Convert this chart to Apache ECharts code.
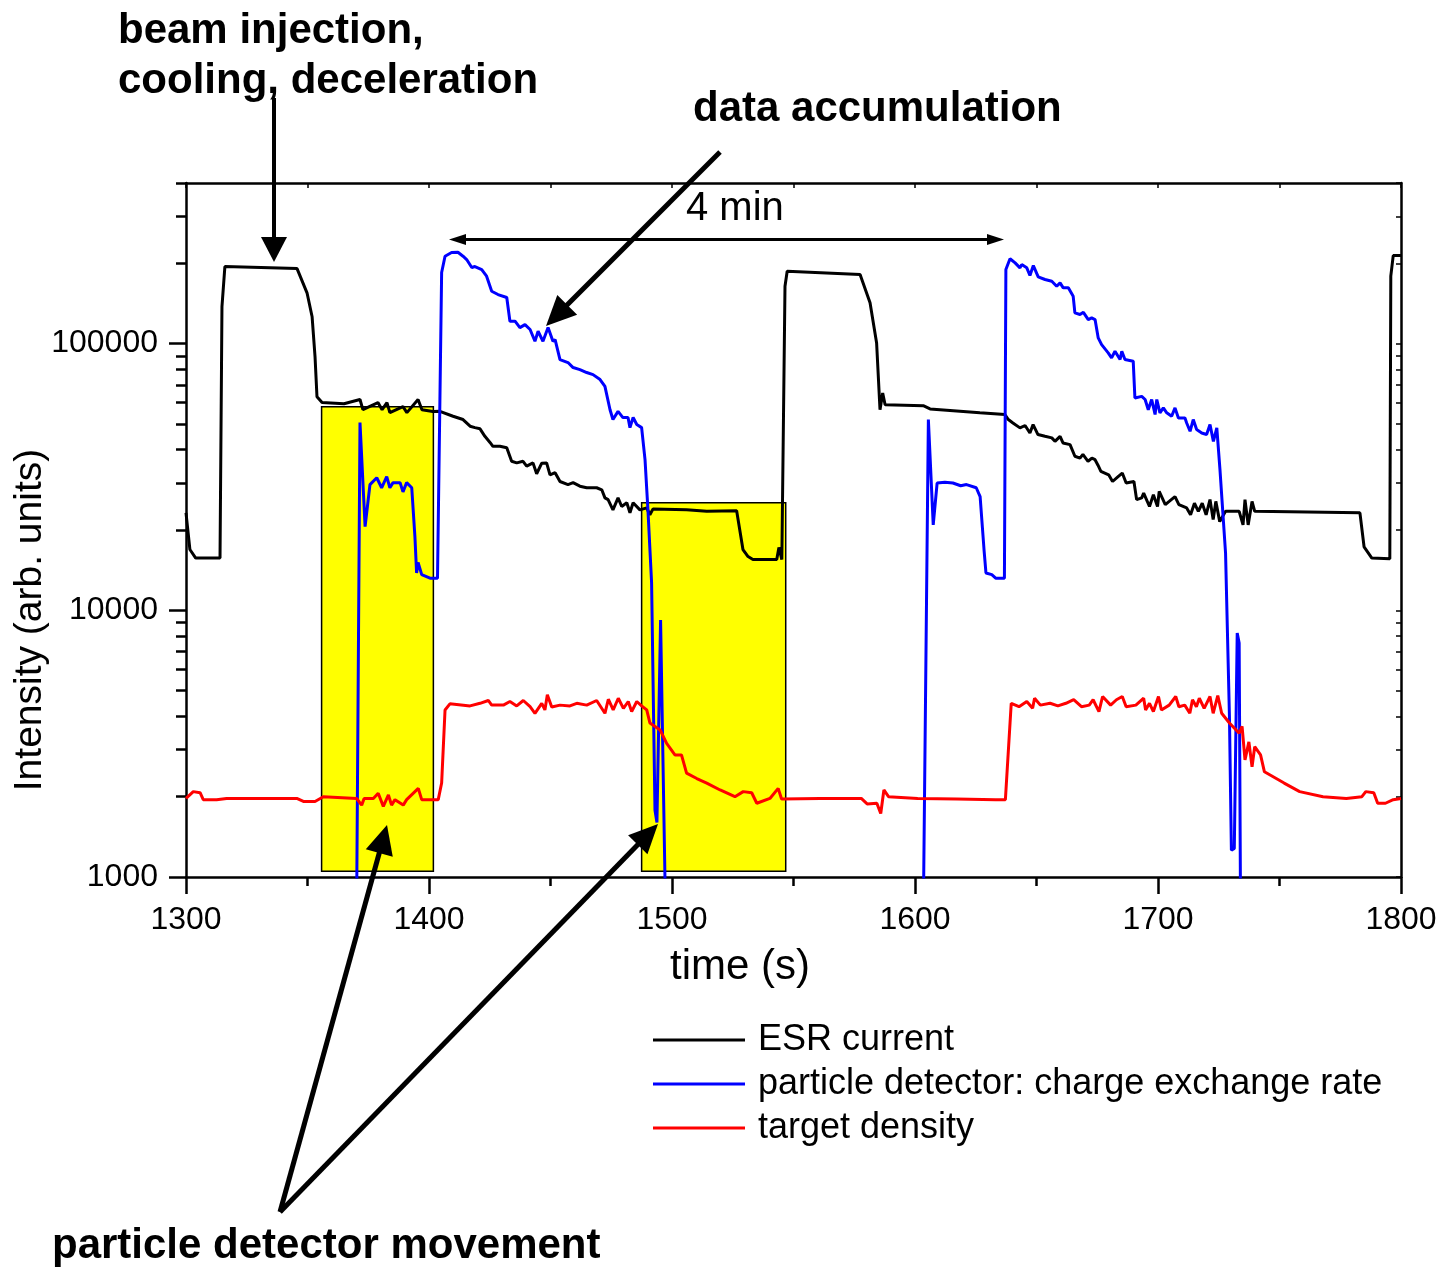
<!DOCTYPE html>
<html><head><meta charset="utf-8">
<script src="https://cdn.jsdelivr.net/npm/echarts@6/dist/echarts.min.js"></script>
<style>html,body{margin:0;padding:0;background:#fff}#c{width:1446px;height:1267px}</style>
</head><body><div id="c"></div>
<script>
// ---------- data ----------
const seriesNames = ['ESR current', 'particle detector: charge exchange rate', 'target density'];

const esrTime = [1300,1301.6,1304,1314,1314.8,1316,1345.7,1349.8,1351.9,1353.1,1353.9,1356,1365,1371.6,1372.8,1379,1380.7,1382.7,1383.9,1389.3,1390.9,1395.5,1397.1,1401.6,
 1404.5,1409.9,1414,1416.9,1418.9,1421,1423,1425.1,1426.3,1429.2,1432,1434,1436.1,1438.7,1440.2,1442.8,1444.3,1446.4,1448.4,1449.8,1451.9,1453.9,1457.2,1459.3,1462.1,1464.9,1469,1471.1,1472.4,1473.7,1475.7,1477.8,1479.3,1481.4,1482.7,1484,1486.8,1489.6,1490.9,1492.2,1506,1514.3,1526.6,1529.2,1531.3,1533.3,1543.1,1544,1545.2,1545.7,
 1546.5,1547.4,1577.4,1581.5,1584.2,1585.6,1586.7,1587.7,1603.4,1606.2,1626.7,1637,1638.4,1640.3,1643.2,1645.3,1647.3,1648.6,1650.6,1653.5,1656.3,1657.6,1659.7,1660.9,1663.8,1665.8,1667.9,1669.1,1671.2,1672.8,1674.1,1675.3,1676.5,1679.7,1681.3,1683.7,1685.3,1686.9,1690.1,1691.2,1693.3,1694.1,1696.5,1698.1,1699.8,1700.5,1703,1704.6,1707,1708.6,1711.8,1713.4,1715,1716.6,1718.2,1719.8,1721.4,1722.7,1723.8,1725.4,1727.8,1733.4,1735,1735.8,1737.1,1738.7,1739.8,1783.1,1784.8,1788,1795.4,1795.8,1796.8,1800];
const esrValue = [23200,16900,15700,15700,137700,194500,191000,155000,126000,89300,63200,60100,59500,61700,56500,60100,56500,60100,55100,58000,55100,61700,56500,55600,
 55700,53400,51900,49000,48400,47900,44900,42600,41200,41200,40700,36200,35700,36200,34700,35700,32500,35600,35700,32200,32800,30400,29600,30100,29200,28800,28800,28300,26400,26000,23800,26400,24500,25300,23200,25300,23800,24200,22800,24000,23800,23500,23600,16900,15900,15500,15500,17200,15500,15500,
 164000,186700,181500,142200,100600,56500,65300,59000,58500,56900,55000,54200,51900,50400,48300,49300,46200,49700,45600,44900,44300,43000,44900,42400,41800,37800,37200,38400,36200,37200,36700,35000,33200,32200,30400,31800,32700,30000,30400,26000,26400,27500,24500,27100,24500,27900,24900,25600,26700,24900,24200,22800,25200,23500,25200,22800,26000,21900,25600,21500,23500,23500,20900,26000,20900,25600,23500,23200,17300,15700,15600,179000,213800,213800];

const detTime = [1300,1369.9,1371.6,1373.7,1375.7,1378.5,1380.5,1382.6,1383.9,1385.2,1388.1,1389.3,1390.8,1392.9,1394.2,1394.9,1395.5,1397,1400.4,1403.5,1405.2,1406.6,1409.3,1411.9,1414,1415.5,1417.6,1418.9,1421.7,1423.7,1425.8,1428.4,1432,1433.3,1435.4,1437.4,1439.5,1441.6,1443.6,1444.9,1446.9,1449,1451,1451.9,1453.9,1457.2,1459.3,1462.1,1464.9,1467.5,1470.4,1472.4,1474.5,1475.7,1477.8,1479.8,1481.9,1482.7,1484,1485.5,1487.5,1488.9,1490.1,1491.6,1493,1493.8,1495.3,1497.1,1497.4,
 1603,1605.5,1607.5,1609.1,1612.3,1615.6,1618.8,1621.2,1625.2,1626.8,1628.4,1629.2,1631.6,1633.2,1636.8,1637.4,1639.1,1641.2,1643.2,1643.9,1646,1647.3,1648.7,1650.7,1653.5,1656.3,1658.3,1659.7,1661,1663.1,1665.1,1665.8,1667.9,1669.3,1671.3,1672.7,1674.1,1675.4,1676.8,1679.5,1680.9,1682.3,1684.4,1685.1,1686.4,1689.8,1690.5,1693.3,1694.7,1696,1697.4,1698.8,1699.5,1700.8,1702.2,1703.6,1705.6,1707,1708.4,1711.1,1711.8,1713.2,1714.5,1715.9,1718,1720,1721.4,1722.8,1724.2,1725.5,1727.8,1729.4,1730.2,1731.4,1732.6,1733.4,1733.9,1734.2,1800];
const detValue = [300,300,50600,20600,29600,31400,28800,31700,28800,30100,30100,27800,30100,28800,18900,13800,15100,13600,13200,13200,184600,212600,219500,220000,212600,206600,192800,194500,189500,178900,157100,152700,148800,121300,121300,114800,117800,112900,102000,111200,102000,114800,102000,103500,87100,84900,81300,79900,77900,76500,73300,69100,56500,51900,55700,52800,52800,48400,52800,49700,48400,36700,23800,12700,1780,1600,9200,1000,300,
 300,51900,20900,30000,30200,30000,29300,29600,28800,26700,16900,13800,13600,13200,13200,189500,208000,200700,192300,197800,192300,179900,196100,177900,173900,171300,164100,168900,161800,161800,150400,130400,128500,131000,123000,124800,123000,105000,99100,92300,88400,93600,87100,93600,87100,85900,62500,63400,61700,56500,61700,54200,61700,55000,57400,55000,53400,57400,52600,52600,50400,46900,51900,47600,46200,45600,49700,43000,48300,33700,16400,3990,1260,1280,8210,7530,1000,300,300];

const targetTime = [1300,1303,1305.8,1307.1,1312.6,1316.7,1345.6,1348.3,1353.1,1356.5,1370.2,1372.3,1373.3,1377.1,1379.1,1381.2,1383.3,1384.6,1386,1389.4,1390.8,1395.6,1397,1401.8,1403.8,1405.2,1406.6,1408.6,1416.9,1421,1424.4,1425.8,1430.6,1433.3,1436.1,1438.8,1441.6,1443.6,1446.4,1447.7,1448.7,1450.5,1453.9,1458,1460.8,1464.9,1469,1472.4,1473.8,1475.8,1477.9,1480,1482,1483.4,1485.5,1487.5,1489.6,1490.9,1495.1,1497.8,1501.2,1503.9,1506,1510.2,1514.3,1519.8,1525.9,1529.3,1532.8,1534.9,1540.3,1543.7,1545.1,1561,
 1577.9,1580.3,1584.3,1585.9,1587.2,1589.1,1601.1,1617.2,1633.2,1637.2,1639.6,1642.8,1646,1648.4,1649.2,1651.6,1655.6,1658.8,1662.1,1665.3,1668.5,1671.7,1673.3,1675.7,1677.2,1680.5,1682.9,1685.3,1686.9,1690.9,1694.1,1694.9,1696.5,1698.1,1700.2,1701.4,1704.6,1707.3,1708.6,1711,1713.1,1714.2,1715.8,1717,1719,1721.4,1722.7,1724.6,1726.2,1729.4,1733.4,1734.6,1735.8,1737.4,1738.7,1739.8,1742.2,1743.8,1751.9,1758.3,1767.9,1777.5,1783.9,1785.5,1788.8,1790.4,1793.6,1796.8,1800];
const targetValue = [1970,2090,2070,1950,1950,1970,1970,1920,1920,2000,1970,1860,1970,1970,2060,1840,2030,1860,1950,1860,1950,2150,1950,1950,1950,2250,4230,4460,4380,4480,4590,4410,4410,4550,4380,4590,4350,4110,4480,4230,4820,4340,4410,4380,4480,4410,4590,4110,4640,4230,4680,4290,4550,4170,4550,4380,4230,3780,3560,3170,2870,2870,2450,2340,2250,2120,2000,2090,2070,1890,1970,2150,1960,1970,
 1970,1880,1890,1730,2120,2000,1970,1960,1950,1950,4480,4350,4550,4290,4680,4410,4480,4380,4480,4620,4350,4410,4620,4170,4750,4410,4620,4750,4350,4410,4680,4230,4480,4170,4750,4230,4410,4750,4350,4410,4110,4620,4350,4680,4290,4750,4110,4790,4110,3780,3460,3670,2750,3210,2590,3080,2870,2480,2250,2090,2000,1970,2000,2090,2070,1890,1890,1950,1970];

// yellow "detector movement" boxes (time from/to, intensity bottom/top)
const boxFrom = [1355.8, 1487.5];
const boxTo = [1401.8, 1546.8];
const boxBottom = [1050, 1050];
const boxTop = [58000, 25300];

// ticks
const xMin = 1300, xMax = 1800, xStep = 100;
const yMin = 1000, yMax = 400000;
const yMajorTicks = [1000, 10000, 100000];
const yMinorTicks = [2000,3000,4000,5000,6000,7000,8000,9000,20000,30000,40000,50000,60000,70000,80000,90000,200000,300000,400000];

// ---------- chart ----------
const FONT = '"Liberation Sans", Arial, Helvetica, sans-serif';
const zip = (a, b) => a.map((t, i) => [t, b[i]]);

function arrow(x1, y1, x2, y2, w, hl, hw) {
  const dx = x2 - x1, dy = y2 - y1, L = Math.hypot(dx, dy), ux = dx / L, uy = dy / L;
  const bx = x2 - ux * hl, by = y2 - uy * hl, px = -uy, py = ux;
  return [
    { type: 'line', z: 100, shape: { x1: x1, y1: y1, x2: bx + ux * 2, y2: by + uy * 2 }, style: { stroke: '#000', lineWidth: w } },
    { type: 'polygon', z: 100, shape: { points: [[x2, y2], [bx + px * hw, by + py * hw], [bx - px * hw, by - py * hw]] }, style: { fill: '#000' } }
  ];
}
function label(text, x, y, size, bold, align, rotation) {
  const el = { type: 'text', z: 100, x: x, y: y, style: { text: text, font: (bold ? 'bold ' : '') + size + 'px ' + FONT, fill: '#000', align: align || 'left', verticalAlign: 'middle' } };
  if (rotation) el.rotation = rotation;
  return el;
}

const axisLineStyle = { color: '#000', width: 2.5 };
const plain = v => String(Math.round(v));
const lineSeries = (name, t, v, color) => ({
  name: name, type: 'line', xAxisIndex: 0, yAxisIndex: 0, data: zip(t, v), showSymbol: false, symbol: 'none',
  lineStyle: { color: color, width: 3 }, itemStyle: { color: color }, z: 5, clip: true, silent: true
});

const graphics = [].concat(
  label('beam injection,', 118, 31, 42, true),
  label('cooling, deceleration', 118, 81, 42, true),
  label('data accumulation', 693, 109, 42, true),
  label('4 min', 686, 209, 40, false),
  label('particle detector movement', 52, 1246, 42, true),
  label('time (s)', 740, 967, 42, false, 'center'),
  label('Intensity (arb. units)', 30, 620, 39, false, 'center', Math.PI / 2),
  arrow(274, 98, 274, 262, 4, 25, 13),
  arrow(720, 152, 546, 326, 5, 30, 14),
  arrow(280, 1212, 387, 825, 5, 29, 14),
  arrow(280, 1212, 658, 824, 5, 29, 13.5),
  arrow(700, 239.5, 449, 239.5, 3, 17, 5.5),
  arrow(700, 239.5, 1004, 239.5, 3, 17, 5.5)
);

const chart = echarts.init(document.getElementById('c'), null, { renderer: 'canvas' });
chart.setOption({
  animation: false,
  backgroundColor: '#fff',
  textStyle: { fontFamily: FONT },
  grid: { left: 186, right: 45, top: 183, bottom: 390, containLabel: false },
  xAxis: [
    { type: 'value', position: 'bottom', min: xMin, max: xMax, interval: xStep,
      axisLine: { show: true, onZero: false, lineStyle: axisLineStyle },
      axisTick: { show: true, length: 17, lineStyle: axisLineStyle },
      minorTick: { show: true, splitNumber: 2, length: 9, lineStyle: { color: '#000', width: 2.5 } },
      axisLabel: { fontSize: 32, color: '#000', margin: 27, fontFamily: FONT, formatter: plain },
      splitLine: { show: false } },
    { type: 'value', position: 'top', min: xMin, max: xMax, interval: xStep,
      axisLine: { show: true, onZero: false, lineStyle: axisLineStyle },
      axisTick: { show: true, inside: true, length: 5, lineStyle: { color: '#000', width: 1.5 } },
      minorTick: { show: true, splitNumber: 2, length: 5, lineStyle: { color: '#000', width: 1.5 } },
      axisLabel: { show: false }, splitLine: { show: false } }
  ],
  yAxis: [
    { type: 'log', logBase: 10, position: 'left', min: yMin, max: yMax,
      axisLine: { show: true, onZero: false, lineStyle: axisLineStyle },
      axisTick: { show: true, length: 17, customValues: yMajorTicks, lineStyle: axisLineStyle },
      axisLabel: { customValues: yMajorTicks, fontSize: 32, color: '#000', margin: 28, fontFamily: FONT, formatter: plain },
      splitLine: { show: false } },
    { type: 'log', logBase: 10, position: 'left', min: yMin, max: yMax,
      axisLine: { show: false },
      axisTick: { show: true, length: 10, customValues: yMinorTicks, lineStyle: axisLineStyle },
      axisLabel: { show: false }, splitLine: { show: false } },
    { type: 'log', logBase: 10, position: 'right', min: yMin, max: yMax,
      axisLine: { show: true, onZero: false, lineStyle: axisLineStyle },
      axisTick: { show: true, inside: true, length: 5, customValues: yMajorTicks.concat(yMinorTicks), lineStyle: { color: '#000', width: 1.5 } },
      axisLabel: { show: false }, splitLine: { show: false } }
  ],
  legend: {
    data: seriesNames.map(n => ({ name: n, icon: 'rect' })),
    orient: 'vertical', left: 653, top: 1020, padding: 0,
    itemWidth: 92, itemHeight: 3, itemGap: 4, selectedMode: false,
    textStyle: { fontSize: 36, color: '#000', fontFamily: FONT, lineHeight: 40, padding: [0, 0, 0, 8] }
  },
  series: [
    { name: 'boxes', type: 'line', data: [], z: 1, silent: true,
      markArea: { silent: true, z: 1,
        itemStyle: { color: '#ffff00', borderColor: '#000', borderWidth: 1.5, opacity: 1 },
        data: boxFrom.map((f, i) => [{ coord: [f, boxBottom[i]] }, { coord: [boxTo[i], boxTop[i]] }]) } },
    lineSeries(seriesNames[0], esrTime, esrValue, '#000000'),
    lineSeries(seriesNames[1], detTime, detValue, '#0000ff'),
    lineSeries(seriesNames[2], targetTime, targetValue, '#ff0000')
  ],
  graphic: graphics
});
</script>
</body></html>
